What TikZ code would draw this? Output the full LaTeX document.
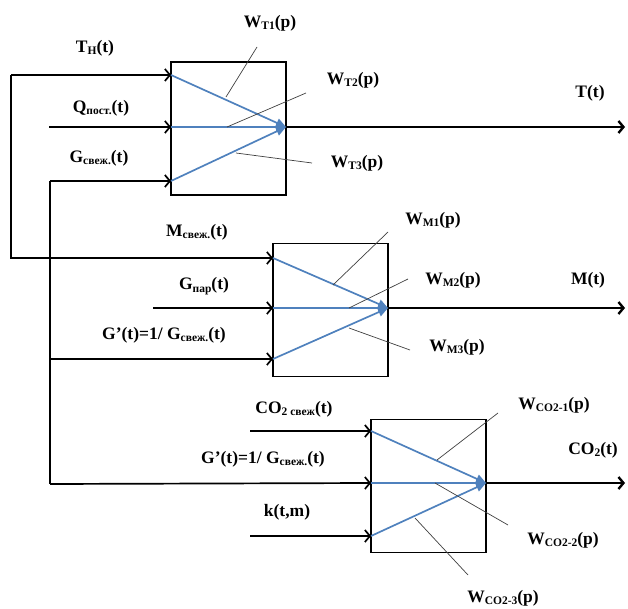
\documentclass[tikz,border=0pt]{standalone}
\usepackage{fontspec}
\setmainfont{Liberation Serif}
\usetikzlibrary{arrows.meta}
\definecolor{wblue}{RGB}{79,129,189}
\newcommand\lsub[1]{\raisebox{-0.3ex}{\fontsize{11.5}{12}\selectfont #1}}
\begin{document}
\begin{tikzpicture}[x=1pt,y=-1pt,
  box/.style={draw, line width=1.5pt, minimum width=115pt, minimum height=133pt, inner sep=0pt},
  conn/.style={line width=1.7pt, -{Straight Barb[length=5pt,width=12pt]}},
  outp/.style={line width=2.4pt, -{Straight Barb[length=5pt,width=12pt]}},
  warr/.style={draw=wblue, line width=1.7pt, -{Triangle[length=10pt,width=9pt]}},
  lead/.style={draw=black!75, line width=0.7pt},
  lbl/.style={font=\fontsize{17.5}{19}\selectfont\bfseries, inner sep=1pt}]
\useasboundingbox (0,0) rectangle (628,609);

% boxes
\node[box] (b1) at (228.5,128.5) {};
\node[box] (b2) at (330.5,310) {};
\node[box] (b3) at (428.5,486) {};

% box input / output points
\coordinate (i11) at (171,75);
\coordinate (i12) at (171,127);
\coordinate (i13) at (171,181);
\coordinate (o1) at (286,127);
\coordinate (i21) at (273,258);
\coordinate (i22) at (273,308);
\coordinate (i23) at (273,359);
\coordinate (o2) at (388,308);
\coordinate (i31) at (371,431);
\coordinate (i32) at (371,483);
\coordinate (i33) at (371,536);
\coordinate (o3) at (486,483);

% sources
\coordinate (lA) at (11,75);
\coordinate (lB) at (50,181);
\coordinate (lC) at (50,484);
\coordinate (sQ) at (49,127);
\coordinate (sG) at (153,308);
\coordinate (sC) at (250,431);
\coordinate (sK) at (250,536);
\coordinate (e1) at (625,127);
\coordinate (e2) at (625,308);
\coordinate (e3) at (625,483);

% input connectors
\draw[conn] (lA) -- (i11);
\draw[conn] (lA) |- (i21);
\draw[conn] (sQ) -- (i12);
\draw[conn] (lB) -- (i13);
\draw[line width=1.7pt] (lB) -- (lC);
\draw[conn] (lB |- i23) -- (i23);
\draw[conn] (lC) -- (i32);
\draw[conn] (sG) -- (i22);
\draw[conn] (sC) -- (i31);
\draw[conn] (sK) -- (i33);

% outputs
\draw[outp] (o1) -- (e1);
\draw[outp] (o2) -- (e2);
\draw[outp] (o3) -- (e3);

% blue transfer lines
\draw[warr] (i11) -- (o1);
\draw[warr] (i12) -- (o1);
\draw[warr] (i13) -- (o1);
\draw[warr] (i21) -- (o2);
\draw[warr] (i22) -- (o2);
\draw[warr] (i23) -- (o2);
\draw[warr] (i31) -- (o3);
\draw[warr] (i32) -- (o3);
\draw[warr] (i33) -- (o3);

% input labels
\node[lbl] (tTH) at (95,48) {T\lsub{H}(t)};
\node[lbl] (tQ) at (101,108) {Q\lsub{пост.}(t)};
\node[lbl] (tG) at (99,158) {G\lsub{свеж.}(t)};
\node[lbl] (tM) at (197,232) {M\lsub{свеж.}(t)};
\node[lbl] (tGp) at (204,286) {G\lsub{пар}(t)};
\node[lbl] (tGg) at (164,335) {G’(t)=1/ G\lsub{свеж.}(t)};
\node[lbl] (tC) at (294,409) {CO\lsub{2 свеж}(t)};
\node[lbl] (tGg3) at (263,459) {G’(t)=1/ G\lsub{свеж.}(t)};
\node[lbl] (tK) at (287,512) {k(t,m)};

% output labels
\node[lbl] (tT) at (590,93) {T(t)};
\node[lbl] (tMt) at (588,280) {M(t)};
\node[lbl] (tCO) at (593,450) {CO\lsub{2}(t)};

% transfer function labels
\node[lbl] (wT1) at (270,23) {W\lsub{T1}(p)};
\node[lbl] (wT2) at (353,80) {W\lsub{T2}(p)};
\node[lbl] (wT3) at (357,163) {W\lsub{T3}(p)};
\node[lbl] (wM1) at (433,220) {W\lsub{M1}(p)};
\node[lbl] (wM2) at (453,280) {W\lsub{M2}(p)};
\node[lbl] (wM3) at (457,347) {W\lsub{M3}(p)};
\node[lbl] (wC1) at (554,405) {W\lsub{CO2-1}(p)};
\node[lbl] (wC2) at (563,540) {W\lsub{CO2-2}(p)};
\node[lbl] (wC3) at (503,598) {W\lsub{CO2-3}(p)};

% leader lines
\coordinate (a1) at (226,97);  \coordinate (a1e) at (257,47);
\coordinate (a2) at (227,127); \coordinate (a2e) at (306,93);
\coordinate (a3) at (236,153); \coordinate (a3e) at (312,163);
\coordinate (m1) at (333,285); \coordinate (m1e) at (388,232);
\coordinate (m2) at (349,308); \coordinate (m2e) at (408,279);
\coordinate (m3) at (349,328); \coordinate (m3e) at (410,350);
\coordinate (c1) at (437,460); \coordinate (c1e) at (498,413);
\coordinate (c2) at (435,483); \coordinate (c2e) at (508,525);
\coordinate (c3) at (415,518); \coordinate (c3e) at (468,575);
\draw[lead] (a1) -- (a1e);
\draw[lead] (a2) -- (a2e);
\draw[lead] (a3) -- (a3e);
\draw[lead] (m1) -- (m1e);
\draw[lead] (m2) -- (m2e);
\draw[lead] (m3) -- (m3e);
\draw[lead] (c1) -- (c1e);
\draw[lead] (c2) -- (c2e);
\draw[lead] (c3) -- (c3e);
\end{tikzpicture}
\end{document}
